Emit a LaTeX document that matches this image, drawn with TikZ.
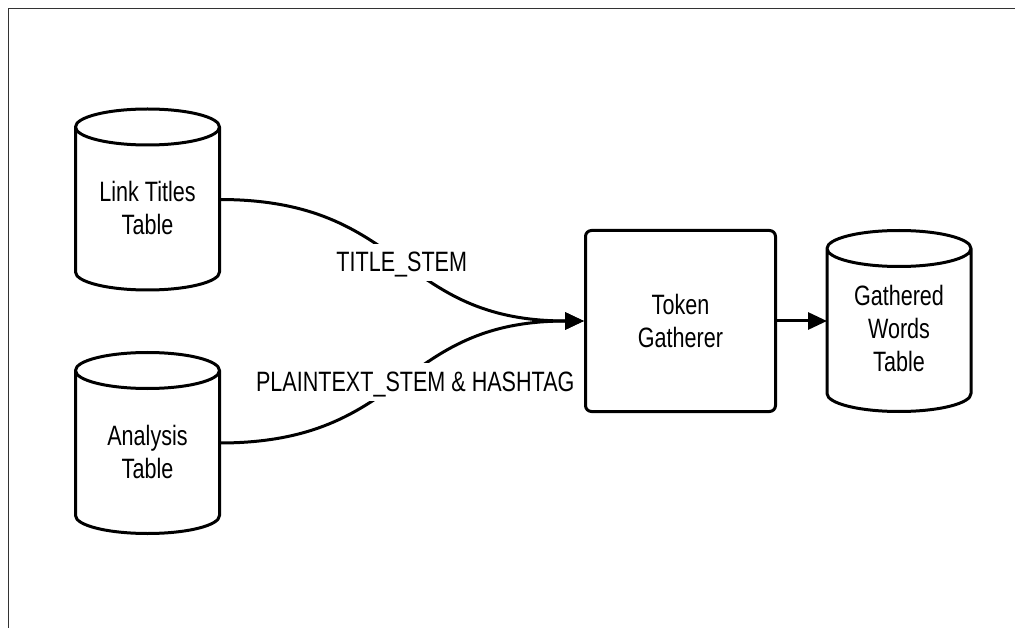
\documentclass[tikz,border=0pt]{standalone}
\usepackage{fontspec}
\newfontfamily\diagfont[FakeStretch=0.77]{Liberation Sans}
\usetikzlibrary{arrows.meta}

% database drum drawn around an invisible placeholder node
\newcommand\cylinderoutline[1]{%
  \draw[cylline] ([yshift=-18pt]#1.north west) -- ([yshift=18pt]#1.south west)
    arc[start angle=180, end angle=360, x radius=72pt, y radius=18pt]
    -- ([yshift=-18pt]#1.north east)
    arc[start angle=0, end angle=360, x radius=72pt, y radius=18pt];}

\begin{document}
\begin{tikzpicture}[x=1pt, y=-1pt,
  txt/.style={font=\diagfont\fontsize{28}{33}\selectfont, align=center, inner sep=0pt},
  cylbox/.style={rectangle, minimum width=144pt, minimum height=181pt, inner sep=0pt, outer sep=0pt},
  cylline/.style={line width=3pt, line join=round},
  procbox/.style={rectangle, draw, line width=3pt, rounded corners=6pt,
                  minimum width=190pt, minimum height=181pt},
  flow/.style={line width=3pt, -{Triangle[length=19pt,width=17pt]}},
  flowlabel/.style={font=\diagfont\fontsize{28}{33}\selectfont, fill=white,
                    text height=25.3pt, text depth=5.9pt, inner sep=3pt}
]
\useasboundingbox (0,0) rectangle (1015,628);
\fill[white] (0,0) rectangle (1015,628);

% page frame
\draw[line width=1.5pt, draw=black!80] (8.5,628) -- (8.5,8.5) -- (1015,8.5);

% sources
\node[cylbox] (linktitles) at (147.5,199.5) {};
\cylinderoutline{linktitles}
\node[txt] (linktitlesText) at (147.5,208) {Link Titles\\Table};

\node[cylbox] (analysis) at (147.5,443) {};
\cylinderoutline{analysis}
\node[txt] (analysisText) at (147.5,451.5) {Analysis\\Table};

% process
\node[procbox, txt] (gatherer) at (680.5,321) {Token\\Gatherer};

% sink
\node[cylbox] (words) at (899,321) {};
\cylinderoutline{words}
\node[txt] (wordsText) at (899,328.5) {Gathered\\Words\\Table};

% flows
\draw[flow] (linktitles) to[out=0, in=180, looseness=1.25]
  node[flowlabel, yshift=-2pt] {TITLE\_STEM} (gatherer);
\draw[flow] (analysis) to[out=0, in=180, looseness=1.25]
  node[flowlabel, xshift=13.5pt] {PLAINTEXT\_STEM \& HASHTAG} (gatherer);
\draw[flow] (gatherer) -- (words);
\end{tikzpicture}
\end{document}
